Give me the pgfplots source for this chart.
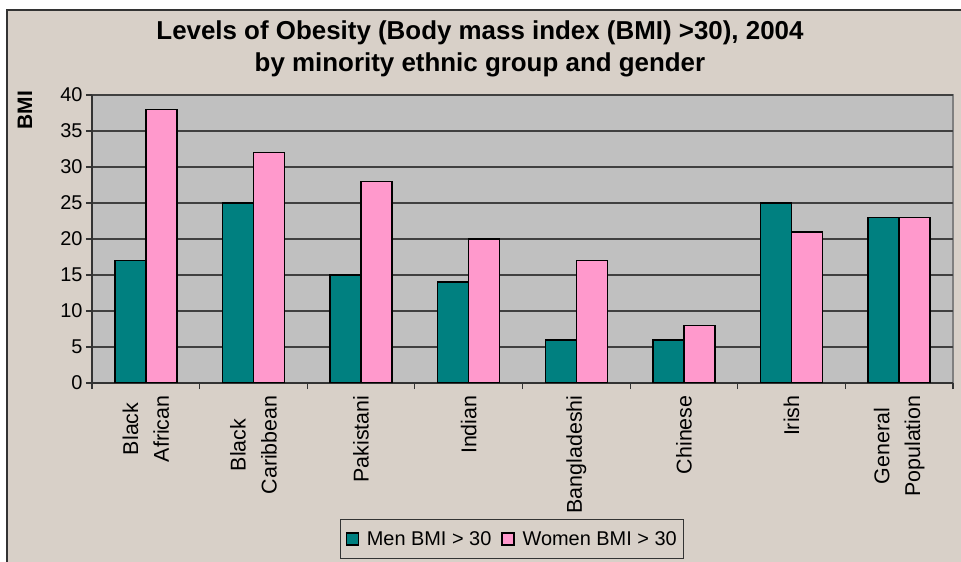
\documentclass[border=0pt]{standalone}
\usepackage{pgfplots}
\pgfplotsset{compat=1.18}
\usepackage{fontspec}
\setmainfont{Liberation Sans}
\definecolor{bgtan}{RGB}{216,208,200}
\definecolor{plotgray}{RGB}{192,192,192}
\definecolor{mteal}{RGB}{0,128,128}
\definecolor{mpink}{RGB}{255,153,204}
\begin{document}
\begin{tikzpicture}
\useasboundingbox (0bp,0bp) rectangle (961bp,562bp);
\fill[white] (0bp,0bp) rectangle (961bp,562bp);
\begin{scope}
\clip (0bp,0bp) rectangle (961bp,562bp);
\filldraw[fill=bgtan, draw=black!80, line width=2bp] (7bp,-10bp) rectangle (975bp,552bp);
\end{scope}
\begin{axis}[
  at={(92bp,179bp)}, anchor=south west,
  scale only axis, width=861bp, height=288bp,
  xmin=-0.5, xmax=7.5, ymin=0, ymax=40,
  ybar=0pt, bar width=31bp,
  axis background/.style={fill=plotgray, draw=gray, line width=2bp},
  axis x line*=bottom, axis y line*=left,
  axis line style={draw=black!80, line width=1.2bp},
  xtick={-0.5,0.5,...,7.5}, xticklabels={},
  extra x ticks={0,1,...,7},
  extra x tick labels={{Black\\African},{Black\\Caribbean},Pakistani,Indian,Bangladeshi,Chinese,Irish,{General\\Population}},
  extra x tick style={major tick length=0pt},
  xticklabel style={rotate=90, anchor=east, align=center, xshift=-9bp, font=\fontsize{21.5}{31}\selectfont},
  ytick={0,5,...,40},
  yticklabel style={font=\fontsize{20}{24}\selectfont},
  /pgf/number format/assume math mode=true,
  tick align=outside, major tick length=6bp,
  tick style={draw=black!80, line width=1.2bp},
  ymajorgrids, grid style={draw=black!75, line width=1.2bp},
  title={Levels of Obesity (Body mass index (BMI) >30), 2004\\by minority ethnic group and gender},
  title style={at={(axis description cs:0.4506,1.140)}, anchor=center, align=center, font=\bfseries\fontsize{26}{32}\selectfont},
  ylabel={BMI},
  ylabel style={at={(axis description cs:-0.078,0.948)}, anchor=center, font=\bfseries\fontsize{21}{24}\selectfont},
  legend style={at={(axis description cs:0.488,-0.542)}, anchor=center, draw=black!80, line width=1bp, fill=bgtan, font=\fontsize{20}{24}\selectfont, inner ysep=10bp, inner xsep=5bp,
    /tikz/every odd column/.append style={column sep=6bp},
    /tikz/every even column/.append style={column sep=8bp}},
  legend columns=2,
  legend image code/.code={\draw[#1, line width=1.2bp] (0bp,-6bp) rectangle (12bp,6bp);},
]
\addplot[fill=mteal, draw=black, line width=1.5bp] coordinates {(0,17) (1,25) (2,15) (3,14) (4,6) (5,6) (6,25) (7,23)};
\addplot[fill=mpink, draw=black, line width=1.5bp] coordinates {(0,38) (1,32) (2,28) (3,20) (4,17) (5,8) (6,21) (7,23)};
\legend{Men BMI > 30, Women BMI > 30}
\end{axis}
\end{tikzpicture}
\end{document}
